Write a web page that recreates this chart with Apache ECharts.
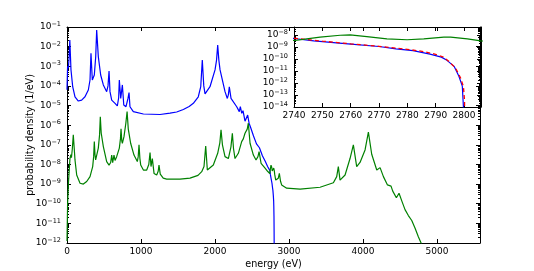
<!DOCTYPE html>
<html><head><meta charset="utf-8">
<script src="https://cdn.jsdelivr.net/npm/echarts@6/dist/echarts.min.js"></script>
<style>html,body{margin:0;padding:0;background:#fff}#c{width:534px;height:271px}</style>
</head><body><div id="c"></div>
<script>
// ---- data (energy in eV, probability density in 1/eV) ----
const blueE = [0,8,18,28,38,54,77,108,153,198,243,288,311,324,342,369,388,401,423,455,491,536,554,568,581,604,626,649,680,698,707,726,748,767,797,824,838,851,896,1032,1257,1392,1482,1572,1650,1707,1774,1807,1828,1848,1865,1932,2000,2020,2036,2052,2068,2135,2166,2180,2193,2216,2293,2328,2342,2361,2378,2405,2441,2460,2480,2520,2560,2600,2640,2680,2710,2740,2747,2759,2770,2776,2782,2788,2792,2794,2796.5,2798.2,2799.4,2799.8,2800];
const blueV = [6.3e-5,1.0e-3,7.9e-4,2.5e-3,2.2e-2,6.5e-4,9.1e-5,2.8e-5,1.7e-5,1.9e-5,2.8e-5,6.2e-5,2.0e-4,4.6e-3,2.0e-4,3.6e-4,3.1e-3,7.1e-2,3.1e-3,3.6e-4,1.12e-4,5.1e-5,1.0e-4,5.8e-4,5.1e-5,1.9e-5,2.3e-5,1.3e-5,9.5e-6,2.5e-5,2.0e-4,2.3e-5,1.12e-4,1.07e-5,8.7e-6,2.3e-5,4.6e-5,8.7e-6,4.9e-6,3.7e-6,3.5e-6,4.1e-6,4.7e-6,6.3e-6,8.9e-6,1.3e-5,2.8e-5,9.1e-5,2.1e-3,1.0e-4,3.9e-5,9.1e-5,6.5e-4,2.0e-3,1.2e-2,2.0e-3,6.5e-4,5.1e-5,2.3e-5,3.5e-5,9.1e-5,2.3e-5,8.7e-6,4.9e-6,8.7e-6,4.0e-6,5.5e-6,1.6e-6,3.3e-6,1.26e-6,7.9e-7,2.8e-7,1.12e-7,7.1e-8,2.8e-8,1.4e-8,7.9e-9,5.0e-9,3.2e-9,1.8e-9,1.07e-9,6.9e-10,4.8e-10,2.5e-10,1.4e-10,7.6e-11,2.4e-11,3.6e-12,5.4e-13,1e-14,1e-30];

const greenE = [0,8,20,40,52,60,72,85,98,108,131,176,221,266,311,347,360,369,378,387,423,440,450,462,491,536,568,590,604,617,635,649,671,707,722,730,740,748,770,795,812,828,860,905,950,962,973,985,996,1032,1077,1105,1122,1135,1153,1176,1212,1232,1243,1260,1300,1347,1527,1662,1770,1820,1851,1874,1896,1977,2036,2065,2081,2100,2135,2180,2215,2234,2250,2270,2315,2360,2382,2405,2435,2450,2473,2518,2554,2580,2595,2622,2676,2710,2740.4,2744.5,2749.2,2756.3,2759.8,2765.7,2772.8,2779.9,2785.8,2792.9,2795.3,2801.2,2805.9,2820,2855,2869,2885,2900,2968,3149,3419,3599,3644,3666,3689,3757,3824,3869,3914,3959,4027,4072,4117,4185,4230,4275,4330,4378,4401,4450,4486,4523,4567,4612,4658,4703,4747,4784,4800];
const greenV = [1.26e-12,1.0e-10,1.26e-9,2.0e-8,3.2e-8,2.2e-8,6.3e-8,3.2e-7,6.3e-8,1.7e-8,2.9e-9,1.1e-9,1.0e-9,1.35e-9,2.4e-9,7.8e-9,2.5e-8,1.45e-7,3.2e-8,1.7e-8,6.8e-8,3.2e-7,2.7e-6,4.0e-7,8.1e-8,1.4e-8,9.3e-9,1.26e-8,3.0e-8,1.23e-8,3.0e-8,1.6e-8,2.5e-8,6.8e-8,2.0e-7,6.5e-7,1.6e-7,1.2e-7,2.6e-7,1.26e-6,5.0e-6,6.3e-7,1.2e-7,3.0e-8,1.4e-8,2.5e-8,1.0e-7,2.0e-8,9.3e-9,5.2e-9,5.2e-9,1.0e-8,4.0e-8,7.8e-9,2.0e-8,3.5e-9,2.9e-9,4.5e-9,9.3e-9,3.2e-9,2.0e-9,1.8e-9,1.8e-9,2.0e-9,2.8e-9,4.3e-9,7.9e-9,8.7e-8,5.2e-9,9.3e-9,3.7e-8,1.26e-7,5.8e-7,1.0e-7,2.5e-8,2.0e-8,7.9e-8,3.9e-7,6.3e-8,2.0e-8,3.7e-8,1.45e-7,2.0e-7,3.9e-7,6.3e-7,1.26e-6,1.2e-7,3.0e-8,1.7e-8,2.5e-8,4.5e-8,1.15e-8,6.5e-9,4.5e-9,3.4e-9,4.7e-9,6.5e-9,9.3e-9,1.0e-8,7.2e-9,4.7e-9,3.9e-9,4.7e-9,6.5e-9,6.5e-9,4.7e-9,3.2e-9,1.6e-9,2.0e-9,3.5e-9,1.4e-9,9.1e-10,6.2e-10,5.5e-10,6.9e-10,1.17e-9,2.4e-9,7.8e-9,1.6e-9,2.9e-9,2.0e-8,1.0e-7,7.8e-9,1.26e-8,5.5e-8,4.4e-7,3.3e-8,5.2e-9,6.9e-9,2.4e-9,9.1e-10,7.9e-10,4.4e-10,2.0e-10,3.4e-10,1.4e-10,5.0e-11,2.5e-11,1.4e-11,5.6e-12,2.1e-12,1.0e-12,5e-13];

const redE = [2740,2750,2760,2770,2780,2786,2790,2792.5,2794.6,2797,2798.8,2799.8,2800.2,2800.3];
const redV = [5.2e-9,3.0e-9,1.8e-9,1.12e-9,6.3e-10,4.0e-10,2.4e-10,1.5e-10,6.3e-11,1.8e-11,2.6e-12,5e-13,3.2e-14,1e-30];

const mainXTicks = [0,1000,2000,3000,4000,5000];
const insetXTicks = [2740,2750,2760,2770,2780,2790,2800];

const FONT = 'DejaVu Sans';
const TICKFS = 9;
const zip = (a,b) => a.map((x,i) => [x, b[i]]);

function supFmt(v) {
  const e = Math.log10(v), r = Math.round(e);
  if (Math.abs(e - r) > 1e-6) return '';
  return '{b|10}{s|' + (r < 0 ? '\u2212' + (-r) : String(r)) + '}';
}
const rich = {
  b: {fontSize: TICKFS, fontFamily: FONT, color: '#000'},
  s: {fontSize: 6.5, fontFamily: FONT, color: '#000', padding: [0,0,5,0]}
};
function minorVals(lo, hi) {
  const a = [];
  for (let n = Math.floor(lo); n < hi; n++)
    for (let k = 2; k <= 9; k++) { const v = n + Math.log10(k); if (v > lo && v < hi) a.push(v); }
  return a;
}
const line = {show: true, onZero: false, lineStyle: {color: '#000', width: 1}};
const tick = (len) => ({show: true, inside: true, length: len, lineStyle: {color: '#000', width: 1}});

function xAx(grid, pos, min, max, interval, ticks, labels) {
  return {type: 'value', gridIndex: grid, position: pos, min, max, interval,
    axisLine: line, axisTick: tick(4), splitLine: {show: false},
    axisLabel: labels ? {show: true, margin: 4, fontSize: TICKFS, fontFamily: FONT, color: '#000',
      formatter: v => ticks.includes(v) ? String(v) : ''} : {show: false}};
}
function yLog(grid, pos, min, max, labels) {
  return {type: 'log', logBase: 10, gridIndex: grid, position: pos, min, max, interval: 1,
    axisLine: line, axisTick: tick(4), splitLine: {show: false}, minorTick: {show: false},
    axisLabel: labels ? {show: true, margin: 6, formatter: supFmt, rich} : {show: false}};
}
function yMinor(grid, pos, lo, hi) {
  return {type: 'value', gridIndex: grid, position: pos, min: lo, max: hi,
    axisLine: {show: false, onZero: false}, splitLine: {show: false}, axisLabel: {show: false},
    axisTick: {show: true, inside: true, length: 2, lineStyle: {color: '#000', width: 1}, customValues: minorVals(lo, hi)}};
}

const insetYMax = 4.5e-8;
const mainX = xAx(0, 'bottom', 0, 5580, 1000, mainXTicks, true);
mainX.name = 'energy (eV)'; mainX.nameLocation = 'middle'; mainX.nameGap = 16; mainX.nameMoveOverlap = false;
mainX.nameTextStyle = {fontSize: 9.6, fontFamily: FONT, color: '#000'};
const mainY = yLog(0, 'left', 1e-12, 1e-1, true);
mainY.name = 'probability density (1/eV)'; mainY.nameLocation = 'middle'; mainY.nameGap = 32; mainY.nameMoveOverlap = false;
mainY.nameTextStyle = {fontSize: 9.6, fontFamily: FONT, color: '#000'};

const option = {
  animation: false,
  backgroundColor: '#fff',
  grid: [
    {left: 67, top: 27, right: 54, bottom: 28, outerBoundsMode: 'none', containLabel: false},
    {left: 294, top: 27, right: 53, bottom: 164, outerBoundsMode: 'none', containLabel: false, show: true, backgroundColor: '#fff', borderWidth: 0}
  ],
  xAxis: [
    mainX,
    xAx(0, 'top', 0, 5580, 1000, mainXTicks, false),
    xAx(1, 'bottom', 2740, 2806, 10, insetXTicks, true),
    xAx(1, 'top', 2740, 2806, 10, insetXTicks, false)
  ],
  yAxis: [
    mainY,
    yLog(0, 'right', 1e-12, 1e-1, false),
    yMinor(0, 'left', -12, -1),
    yMinor(0, 'right', -12, -1),
    yLog(1, 'left', 1e-14, insetYMax, true),
    yLog(1, 'right', 1e-14, insetYMax, false),
    yMinor(1, 'left', -14, Math.log10(insetYMax)),
    yMinor(1, 'right', -14, Math.log10(insetYMax))
  ],
  series: [
    {type: 'line', xAxisIndex: 0, yAxisIndex: 0, data: zip(blueE, blueV), showSymbol: false, clip: true,
     lineStyle: {color: '#0000ff', width: 1.2}, itemStyle: {color: '#0000ff'}},
    {type: 'line', xAxisIndex: 0, yAxisIndex: 0, data: zip(greenE, greenV), showSymbol: false, clip: true,
     lineStyle: {color: '#008000', width: 1.2}, itemStyle: {color: '#008000'}},
    {type: 'line', xAxisIndex: 2, yAxisIndex: 4, data: zip(blueE, blueV), showSymbol: false, clip: true,
     lineStyle: {color: '#0000ff', width: 1.2}, itemStyle: {color: '#0000ff'}},
    {type: 'line', xAxisIndex: 2, yAxisIndex: 4, data: zip(redE, redV), showSymbol: false, clip: true,
     lineStyle: {color: '#ff0000', width: 1.3, type: [4, 3]}, itemStyle: {color: '#ff0000'}},
    {type: 'line', xAxisIndex: 2, yAxisIndex: 4, data: zip(greenE, greenV), showSymbol: false, clip: true,
     lineStyle: {color: '#008000', width: 1.2}, itemStyle: {color: '#008000'}}
  ]
};
echarts.init(document.getElementById('c'), null, {renderer: 'canvas'}).setOption(option);
</script>
</body></html>
